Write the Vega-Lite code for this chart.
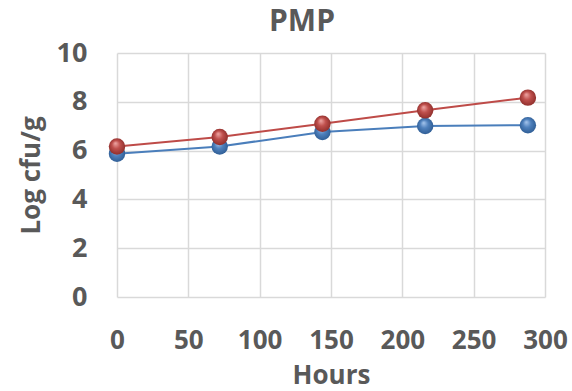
{
  "$schema": "https://vega.github.io/schema/vega-lite/v6.json",
  "width": 428,
  "height": 244,
  "autosize": "none",
  "padding": {"left": 117, "top": 53, "right": 27, "bottom": 94},
  "background": "white",
  "config": {"view": {"stroke": null}, "font": "Open Sans"},
  "title": {"text": "PMP", "fontSize": 30, "fontWeight": "bold", "color": "#595959", "font": "Open Sans", "anchor": "middle", "dx": -29, "offset": 2},
  "data": {"values": [
    {"hours": 0, "logcfu": 5.87, "series": "S1"},
    {"hours": 72, "logcfu": 6.17, "series": "S1"},
    {"hours": 144, "logcfu": 6.76, "series": "S1"},
    {"hours": 216, "logcfu": 7.01, "series": "S1"},
    {"hours": 288, "logcfu": 7.04, "series": "S1"},
    {"hours": 0, "logcfu": 6.17, "series": "S2"},
    {"hours": 72, "logcfu": 6.56, "series": "S2"},
    {"hours": 144, "logcfu": 7.1, "series": "S2"},
    {"hours": 216, "logcfu": 7.65, "series": "S2"},
    {"hours": 288, "logcfu": 8.17, "series": "S2"}
  ]},
  "encoding": {
    "x": {"field": "hours", "type": "quantitative", "scale": {"domain": [0, 300], "nice": false},
      "axis": {"title": "Hours", "values": [0, 50, 100, 150, 200, 250, 300], "grid": true, "gridColor": "#d9d9d9", "gridWidth": 1.5, "domain": false, "ticks": false,
        "labelFlush": false, "labelOverlap": false,
        "labelFont": "Open Sans", "labelFontSize": 26, "labelFontWeight": "bold", "labelColor": "#595959", "labelPadding": 30,
        "titleFont": "Open Sans", "titleFontSize": 26, "titleFontWeight": "bold", "titleColor": "#595959", "titlePadding": 9}},
    "y": {"field": "logcfu", "type": "quantitative", "scale": {"domain": [0, 10], "nice": false},
      "axis": {"title": "Log cfu/g", "values": [0, 2, 4, 6, 8, 10], "grid": true, "gridColor": "#d9d9d9", "gridWidth": 1.5, "domain": false, "ticks": false,
        "labelOverlap": false, "labelFlush": false,
        "labelFont": "Open Sans", "labelFontSize": 27, "labelFontWeight": "bold", "labelColor": "#595959", "labelPadding": 30,
        "titleFont": "Open Sans", "titleFontSize": 26, "titleFontWeight": "bold", "titleColor": "#595959", "titlePadding": 12}}
  },
  "layer": [
    {"transform": [{"filter": "datum.series === 'S1'"}], "mark": {"type": "line", "color": "#4a7ebb", "strokeWidth": 2}},
    {"transform": [{"filter": "datum.series === 'S2'"}], "mark": {"type": "line", "color": "#be4b48", "strokeWidth": 2}},
    {"transform": [{"filter": "datum.series === 'S1'"}], "mark": {"type": "point", "filled": true, "size": 270, "opacity": 1,
      "fill": {"gradient": "radial", "x1": 0.4, "y1": 0.3, "r1": 0, "x2": 0.5, "y2": 0.5, "r2": 0.55,
        "stops": [{"offset": 0, "color": "#a9c8ef"}, {"offset": 0.45, "color": "#4f81bd"}, {"offset": 1, "color": "#2c5a91"}]}}},
    {"transform": [{"filter": "datum.series === 'S2'"}], "mark": {"type": "point", "filled": true, "size": 270, "opacity": 1,
      "fill": {"gradient": "radial", "x1": 0.4, "y1": 0.3, "r1": 0, "x2": 0.5, "y2": 0.5, "r2": 0.55,
        "stops": [{"offset": 0, "color": "#f0a9a7"}, {"offset": 0.45, "color": "#c0504d"}, {"offset": 1, "color": "#8a2b28"}]}}}
  ]
}
